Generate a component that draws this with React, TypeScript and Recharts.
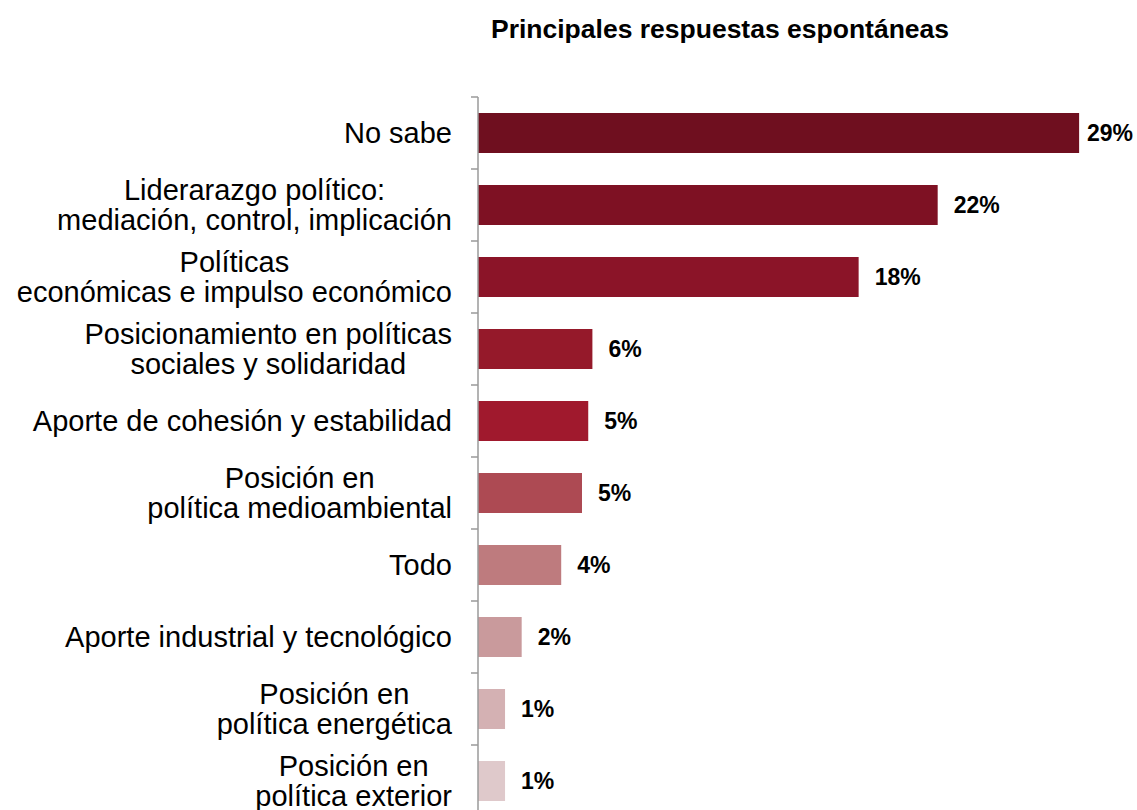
import React from 'react';
import { BarChart, Bar, XAxis, YAxis, Cell, LabelList } from 'recharts';

const categories = [
  'No sabe',
  'Liderarazgo político:\nmediación, control, implicación',
  'Políticas\neconómicas e impulso económico',
  'Posicionamiento en políticas\nsociales y solidaridad',
  'Aporte de cohesión y estabilidad',
  'Posición en\npolítica medioambiental',
  'Todo',
  'Aporte industrial y tecnológico',
  'Posición en\npolítica energética',
  'Posición en\npolítica exterior',
];
const values = [28.9, 22.1, 18.3, 5.5, 5.3, 5.0, 4.0, 2.1, 1.3, 1.3];
const valueLabels = ['29%', '22%', '18%', '6%', '5%', '5%', '4%', '2%', '1%', '1%'];
const barColors = [
  '#6F0F1F', '#7E1123', '#8B1428', '#95192A', '#A0192D',
  '#AD4A53', '#BE7B7E', '#C99A9C', '#D4B1B3', '#DFC9CB',
];

const W = 1137;
const H = 830;
const TOP = 97;
const BOTTOM = 13;
const AXIS_W = 478;
const TICK_GAP = 26;
const FONT = "'Liberation Sans', Arial, sans-serif";
const LABEL_SIZE = 29;
const VALUE_SIZE = 23;

const data = categories.map((name, i) => ({ name, value: values[i], label: valueLabels[i] }));

let ctx: CanvasRenderingContext2D | null = null;
function measure(text: string, font: string) {
  if (!ctx) ctx = document.createElement('canvas').getContext('2d');
  if (!ctx) return text.length * 14;
  ctx.font = font;
  return ctx.measureText(text).width;
}

function CategoryTick(props: any) {
  const { x, y, payload, index } = props;
  const lines = String(payload.value).split('\n');
  const widths = lines.map((l) => measure(l, `${LABEL_SIZE}px ${FONT}`));
  const blockW = Math.max(...widths);
  const cx = x - blockW / 2;
  const axisX = x + TICK_GAP;
  const half = (H - TOP - BOTTOM) / categories.length / 2;
  return (
    <g>
      <line x1={axisX - 7} x2={axisX} y1={y - half} y2={y - half} stroke="#9a9a9a" strokeWidth={1.5} />
      {index === categories.length - 1 && (
        <line x1={axisX - 7} x2={axisX} y1={y + half} y2={y + half} stroke="#9a9a9a" strokeWidth={1.5} />
      )}
      {lines.map((l, i) => (
        <text
          key={i}
          x={cx}
          y={y + (i - (lines.length - 1) / 2) * 30 + 10.4}
          textAnchor="middle"
          fontFamily={FONT}
          fontSize={LABEL_SIZE}
          fill="#000"
        >
          {l}
        </text>
      ))}
    </g>
  );
}

function ValueLabel(props: any) {
  const { x, y, width, height, value } = props;
  const tw = measure(String(value), `bold ${VALUE_SIZE}px ${FONT}`);
  const tx = Math.min(x + width + 16, W - 4 - tw);
  return (
    <text x={tx} y={y + height / 2 + 8.2} fontFamily={FONT} fontSize={VALUE_SIZE} fontWeight="bold" fill="#000">
      {value}
    </text>
  );
}

export default function App() {
  return (
    <div style={{ position: 'absolute', left: 0, top: 0, width: W, height: 810, overflow: 'hidden', background: '#fff' }}>
      <div
        style={{
          position: 'absolute',
          left: 720,
          top: 16,
          transform: 'translateX(-50%)',
          whiteSpace: 'nowrap',
          fontFamily: FONT,
          fontSize: 26.5,
          lineHeight: '26.5px',
          fontWeight: 'bold',
          color: '#000',
        }}
      >
        Principales respuestas espontáneas
      </div>
      <BarChart
        width={W}
        height={H}
        data={data}
        layout="vertical"
        margin={{ top: TOP, right: 35, bottom: BOTTOM, left: 0 }}
        barSize={40}
      >
        <XAxis type="number" domain={[0, 30]} hide />
        <YAxis
          type="category"
          dataKey="name"
          width={AXIS_W}
          interval={0}
          tickLine={false}
          tickSize={0}
          tickMargin={TICK_GAP}
          axisLine={{ stroke: '#9a9a9a', strokeWidth: 1.5 }}
          tick={(p: any) => <CategoryTick {...p} />}
        />
        <Bar dataKey="value" isAnimationActive={false}>
          {data.map((d, i) => (
            <Cell key={d.name} fill={barColors[i]} />
          ))}
          <LabelList dataKey="label" content={(p: any) => <ValueLabel {...p} />} />
        </Bar>
      </BarChart>
    </div>
  );
}
